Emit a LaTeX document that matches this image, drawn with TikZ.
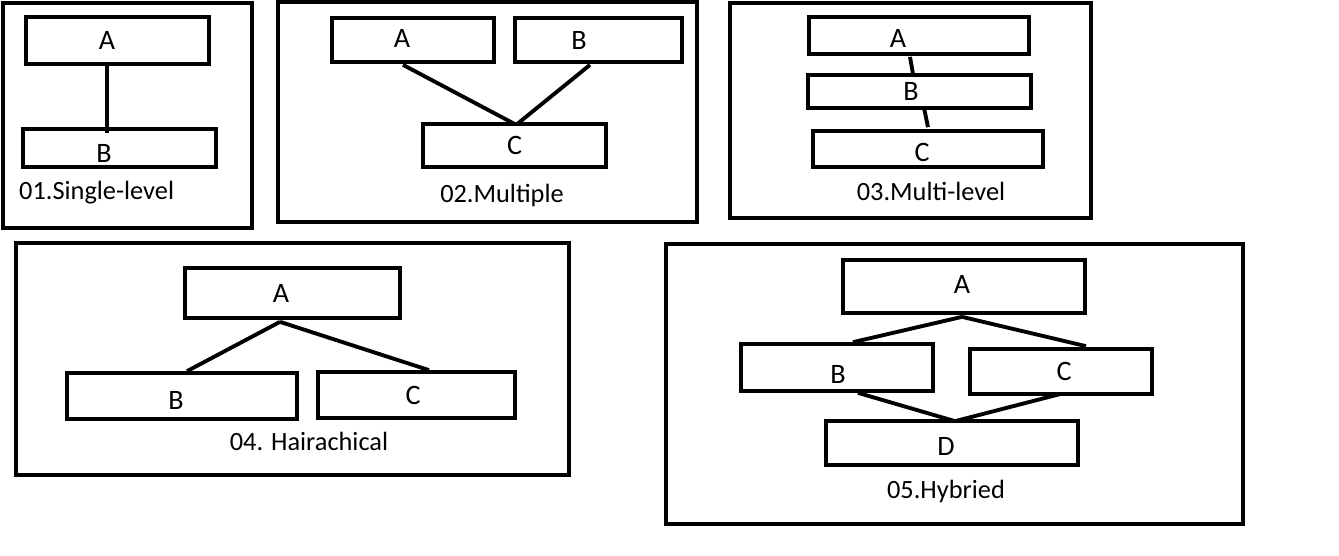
\documentclass[tikz,border=0pt]{standalone}
\usepackage{fontspec}
\setmainfont{Carlito}
\usetikzlibrary{positioning,calc}

\begin{document}
\begin{tikzpicture}[x=0.02cm, y=-0.02cm,
    font=\fontsize{16}{18}\selectfont,
    frame/.style={line width=2.6pt},
    box/.style 2 args={draw, line width=2.1pt, inner sep=0pt,
      minimum width=#1*0.02cm, minimum height=#2*0.02cm},
    link/.style={line width=2.2pt},
    title/.style={font=\fontsize{15}{17}\selectfont, anchor=base}]
  \fill[white] (0,0) rectangle (1339,555);
  \useasboundingbox (0,0) rectangle (1339,555);

  % 01 single-level
  \draw[frame] (3,3) rectangle (252,228);
  \node[box={183}{47}, label={[shift={(-10.5,0)}]center:A}] (a1) at (117.5,40.5) {};
  \node[box={193}{38}, label={[shift={(-15.5,5)}]center:B}] (b1) at (119.5,148) {};
  \draw[link] ($(a1.south)+(-10.5,0)$) -- ($(b1.north)+(-12.5,6)$);
  \node[title, anchor=base west] (t1) at (13,199) {01.Single-level};

  % 02 multiple
  \draw[frame] (278,2) rectangle (697,222);
  \node[box={162}{44}, label={[shift={(-11,-2)}]center:A}] (a2) at (413,40) {};
  \node[box={167}{44}, label={[shift={(-19.5,0)}]center:B}] (b2) at (598.5,40) {};
  \node[box={183}{43}, label={center:C}] (c2) at (514.5,145.5) {};
  \draw[link] ($(a2.south)+(-10,1)$) -- ($(c2.north)+(0.5,2)$);
  \draw[link] ($(b2.south)+(-8.5,1)$) -- ($(c2.north)+(2.5,2)$);
  \node[title] (t2) at (502,202) {02.Multiple};

  % 03 multi-level
  \draw[frame] (730,3) rectangle (1091,218);
  \node[box={220}{37}, label={[shift={(-21,2.5)}]center:A}] (a3) at (919,35.5) {};
  \node[box={223}{33}, label={[shift={(-8.5,0)}]center:B}] (b3) at (919.5,91.5) {};
  \node[box={230}{36}, label={[shift={(-6,3)}]center:C}] (c3) at (928,149) {};
  \draw[link] ($(a3.south)+(-9,1)$) -- ($(b3.north)+(-6.5,1)$);
  \draw[link] ($(b3.south)+(4.5,-2)$) -- ($(c3.north)+(0,-2)$);
  \node[title] (t3) at (931,200) {03.Multi-level};

  % 04 hairachical
  \draw[frame] (16,243) rectangle (569,475);
  \node[box={215}{50}, label={[shift={(-11.5,0)}]center:A}] (a4) at (292.5,293) {};
  \node[box={230}{46}, label={[shift={(-6,4)}]center:B}] (b4) at (182,396) {};
  \node[box={197}{46}, label={[shift={(-3.5,0)}]center:C}] (c4) at (416.5,395) {};
  \draw[link] ($(a4.south)+(-12.5,2)$) -- ($(b4.north)+(5,0)$);
  \draw[link] ($(a4.south)+(-12.5,2)$) -- ($(c4.north)+(12.5,0)$);
  \node[title] (t4) at (309,450) {04. Hairachical};

  % 05 hybried
  \draw[frame] (666,244) rectangle (1243,524);
  \node[box={242}{53}, label={[shift={(-2,-2.5)}]center:A}] (a5) at (964,286.5) {};
  \node[box={192}{47}, label={[shift={(1,6.5)}]center:B}] (b5) at (837,367.5) {};
  \node[box={182}{45}, label={[shift={(3,0)}]center:C}] (c5) at (1061,371.5) {};
  \node[box={252}{44}, label={[shift={(-6,3)}]center:D}] (d5) at (952,443) {};
  \draw[link] ($(a5.south)+(-2,2)$) -- ($(b5.north)+(16,0)$);
  \draw[link] ($(a5.south)+(-2,2)$) -- ($(c5.north)+(25,-1)$);
  \draw[link] ($(b5.south)+(21,0)$) -- ($(d5.north)+(3,2)$);
  \draw[link] ($(c5.south)+(0,-2)$) -- ($(d5.north)+(3,2)$);
  \node[title] (t5) at (946,498) {05.Hybried};
\end{tikzpicture}
\end{document}
